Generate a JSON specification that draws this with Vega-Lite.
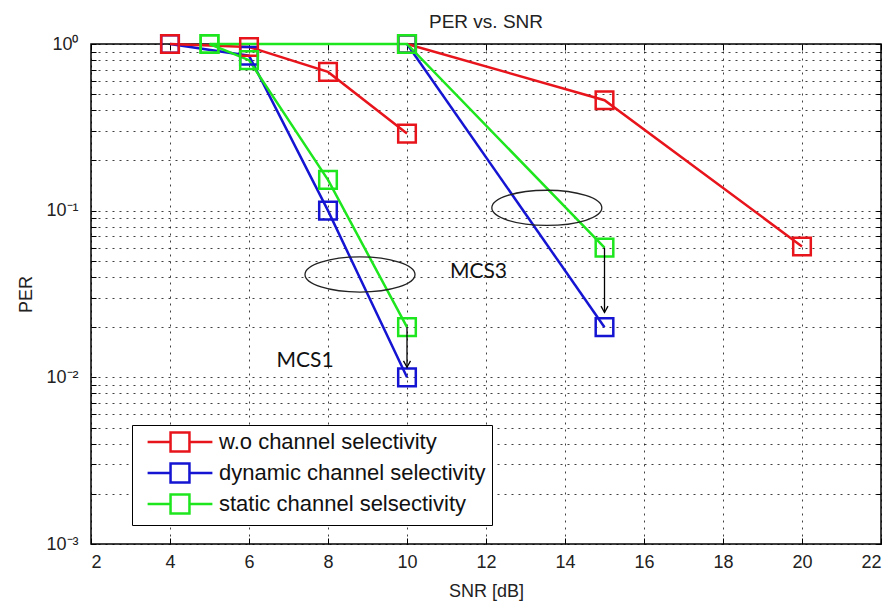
{
  "$schema": "https://vega.github.io/schema/vega-lite/v6.json",
  "width": 790,
  "height": 500,
  "autosize": {"type": "none"},
  "padding": {"left": 91, "top": 44, "right": 12, "bottom": 60},
  "background": "white",
  "config": {
    "view": {"stroke": "#000", "strokeWidth": 1.5},
    "font": "Liberation Sans",
    "axis": {"labelFont": "Liberation Sans", "titleFont": "Liberation Sans", "labelColor": "#222", "titleColor": "#222", "titleFontWeight": "normal", "labelFontSize": 18, "titleFontSize": 18}
  },
  "title": {"text": "PER vs. SNR", "fontSize": 19, "font": "Liberation Sans", "fontWeight": "normal", "color": "#222", "offset": -2, "anchor": "middle"},
  "resolve": {"axis": {"x": "independent", "y": "independent"}},
  "datasets": {
    "curves": [
      {"curve": "b1", "series": "dynamic channel selectivity", "snr": 4, "per": 1},
      {"curve": "b1", "series": "dynamic channel selectivity", "snr": 6, "per": 0.85},
      {"curve": "b1", "series": "dynamic channel selectivity", "snr": 8, "per": 0.1},
      {"curve": "b1", "series": "dynamic channel selectivity", "snr": 10, "per": 0.01},
      {"curve": "r1", "series": "w.o channel selectivity", "snr": 4, "per": 1},
      {"curve": "r1", "series": "w.o channel selectivity", "snr": 6, "per": 0.96},
      {"curve": "r1", "series": "w.o channel selectivity", "snr": 8, "per": 0.68},
      {"curve": "r1", "series": "w.o channel selectivity", "snr": 10, "per": 0.29},
      {"curve": "g1", "series": "static channel selsectivity", "snr": 5, "per": 1},
      {"curve": "g1", "series": "static channel selsectivity", "snr": 6, "per": 0.8},
      {"curve": "g1", "series": "static channel selsectivity", "snr": 8, "per": 0.153},
      {"curve": "g1", "series": "static channel selsectivity", "snr": 10, "per": 0.02},
      {"curve": "r3", "series": "w.o channel selectivity", "snr": 10, "per": 1},
      {"curve": "r3", "series": "w.o channel selectivity", "snr": 15, "per": 0.46},
      {"curve": "r3", "series": "w.o channel selectivity", "snr": 20, "per": 0.061},
      {"curve": "b3", "series": "dynamic channel selectivity", "snr": 10, "per": 1},
      {"curve": "b3", "series": "dynamic channel selectivity", "snr": 15, "per": 0.02},
      {"curve": "g3", "series": "static channel selsectivity", "snr": 5, "per": 1},
      {"curve": "g3", "series": "static channel selsectivity", "snr": 10, "per": 1},
      {"curve": "g3", "series": "static channel selsectivity", "snr": 15, "per": 0.06}
    ],
    "ellipses": [
      {"snr": 8.81, "per": 0.0414},
      {"snr": 13.54, "per": 0.104}
    ],
    "labels": [
      {"snr": 7.42, "per": 0.0125, "text": "MCS1"},
      {"snr": 11.81, "per": 0.043, "text": "MCS3"}
    ],
    "arrows": [
      {"snr": 10, "per": 0.02, "per2": 0.0115},
      {"snr": 15, "per": 0.06, "per2": 0.0245}
    ]
  },
  "layer": [
    {
      "data": {"name": "curves"},
      "mark": {"type": "line", "strokeWidth": 2.5},
      "encoding": {
        "x": {"field": "snr", "type": "quantitative", "scale": {"domain": [2, 22], "nice": false, "zero": false},
          "axis": {"orient": "bottom", "values": [2, 4, 6, 8, 10, 12, 14, 16, 18, 20, 22], "title": "SNR [dB]", "grid": true, "gridDash": [2, 5], "gridColor": "#000", "gridOpacity": 0.75, "domain": false, "tickSize": -6, "tickColor": "#000", "labelPadding": 15, "titlePadding": 11}},
        "y": {"field": "per", "type": "quantitative", "scale": {"type": "log", "domain": [0.001, 1], "nice": false},
          "axis": {"orient": "left", "values": [0.001, 0.002, 0.003, 0.004, 0.005, 0.006, 0.007, 0.008, 0.009, 0.01, 0.02, 0.03, 0.04, 0.05, 0.06, 0.07, 0.08, 0.09, 0.1, 0.2, 0.3, 0.4, 0.5, 0.6, 0.7, 0.8, 0.9, 1],
            "labelExpr": "datum.value == 1 ? '10⁰' : datum.value == 0.1 ? '10⁻¹' : datum.value == 0.01 ? '10⁻²' : datum.value == 0.001 ? '10⁻³' : ''",
            "title": "PER", "grid": true, "gridDash": [2, 5], "gridColor": "#000", "gridOpacity": 0.75, "domain": false, "tickSize": -5, "tickColor": "#000", "labelPadding": 18, "titlePadding": 10}},
        "color": {"field": "series", "type": "nominal",
          "scale": {"domain": ["w.o channel selectivity", "dynamic channel selectivity", "static channel selsectivity"], "range": ["#e8141c", "#1414d2", "#1ee61e"]},
          "legend": {"title": null, "orient": "none", "legendX": 41, "legendY": 381, "strokeColor": "#000", "fillColor": "#fff", "padding": 6,
            "symbolType": "M-3.6,0L-1.05,0M-1.05,-1.05L1.05,-1.05L1.05,1.05L-1.05,1.05ZM1.05,0L3.6,0", "symbolSize": 324, "symbolStrokeWidth": 2.5, "symbolOffset": 31,
            "labelFontSize": 22, "labelFont": "Liberation Sans", "labelColor": "#111", "labelLimit": 0, "rowPadding": 1, "labelOffset": 28}},
        "detail": {"field": "curve", "type": "nominal"}
      }
    },
    {
      "data": {"name": "curves"},
      "mark": {"type": "point", "shape": "square", "size": 310, "strokeWidth": 2.5, "filled": false, "opacity": 1},
      "encoding": {
        "x": {"field": "snr", "type": "quantitative",
          "axis": {"orient": "top", "values": [2, 4, 6, 8, 10, 12, 14, 16, 18, 20, 22], "labels": false, "title": null, "grid": false, "domain": false, "tickSize": -6, "tickColor": "#000"}},
        "y": {"field": "per", "type": "quantitative",
          "axis": {"orient": "right", "values": [0.001, 0.002, 0.003, 0.004, 0.005, 0.006, 0.007, 0.008, 0.009, 0.01, 0.02, 0.03, 0.04, 0.05, 0.06, 0.07, 0.08, 0.09, 0.1, 0.2, 0.3, 0.4, 0.5, 0.6, 0.7, 0.8, 0.9, 1], "labels": false, "title": null, "grid": false, "domain": false, "tickSize": -5, "tickColor": "#000"}},
        "color": {"field": "series", "type": "nominal"}
      }
    },
    {
      "data": {"name": "ellipses"},
      "mark": {"type": "point", "shape": "M-1,0A1,0.32 0 1,1 1,0A1,0.32 0 1,1 -1,0Z", "size": 12100, "filled": false, "color": "#222", "strokeWidth": 1.3, "opacity": 1},
      "encoding": {
        "x": {"field": "snr", "type": "quantitative", "axis": null},
        "y": {"field": "per", "type": "quantitative", "axis": null}
      }
    },
    {
      "data": {"name": "labels"},
      "mark": {"type": "text", "font": "Lato", "fontSize": 21, "color": "#111", "baseline": "middle", "align": "center"},
      "encoding": {
        "x": {"field": "snr", "type": "quantitative", "axis": null},
        "y": {"field": "per", "type": "quantitative", "axis": null},
        "text": {"field": "text"}
      }
    },
    {
      "data": {"name": "arrows"},
      "mark": {"type": "rule", "color": "#000", "strokeWidth": 1.3},
      "encoding": {
        "x": {"field": "snr", "type": "quantitative", "axis": null},
        "y": {"field": "per", "type": "quantitative", "axis": null},
        "y2": {"field": "per2"}
      }
    },
    {
      "data": {"name": "arrows"},
      "mark": {"type": "point", "shape": "M-1,-1.8L0,0L1,-1.8", "size": 49, "filled": false, "color": "#000", "strokeWidth": 1.3, "opacity": 1},
      "encoding": {
        "x": {"field": "snr", "type": "quantitative", "axis": null},
        "y": {"field": "per2", "type": "quantitative", "axis": null}
      }
    }
  ]
}
